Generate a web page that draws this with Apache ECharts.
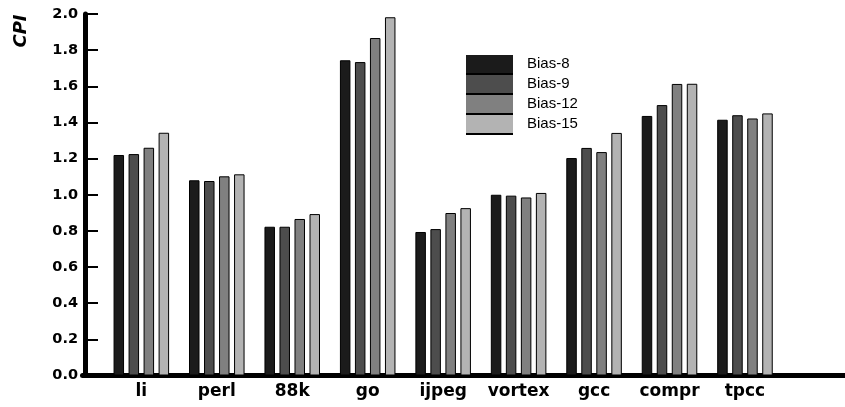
<!DOCTYPE html>
<html>
<head>
<meta charset="utf-8">
<script src="https://cdn.jsdelivr.net/npm/echarts@6/dist/echarts.min.js"></script>
<style>
  html, body { margin: 0; padding: 0; background: #fff; }
  #chart { width: 845px; height: 407px; }
</style>
</head>
<body>
<div id="chart"></div>
<script>
const benchmarks = ["li", "perl", "88k", "go", "ijpeg", "vortex", "gcc", "compr", "tpcc"];
const seriesNames = ["Bias-8", "Bias-9", "Bias-12", "Bias-15"];
const bias8 = [1.22, 1.08, 0.823, 1.744, 0.794, 1.0, 1.203, 1.436, 1.415];
const bias9 = [1.225, 1.076, 0.823, 1.734, 0.81, 0.995, 1.259, 1.496, 1.44];
const bias12 = [1.26, 1.102, 0.866, 1.867, 0.899, 0.985, 1.236, 1.613, 1.422];
const bias15 = [1.343, 1.113, 0.893, 1.982, 0.926, 1.01, 1.342, 1.614, 1.45];
const yTicks = [0, 2, 0.2];
const greys = ["#1b1b1b", "#4d4d4d", "#808080", "#b3b3b3"];

const chart = echarts.init(document.getElementById("chart"));
const values = [bias8, bias9, bias12, bias15];
const bold = { fontFamily: "DejaVu Sans", fontWeight: "bold", color: "#000" };

chart.setOption({
  animation: false,
  grid: [
    { left: 103.6, right: 62.3, top: 14, bottom: 31.5 },
    { left: 82.5, right: 0, top: 14, bottom: 31.5 },
  ],
  graphic: [
    {
      type: "text",
      x: 21,
      y: 31,
      rotation: Math.PI / 2,
      style: {
        text: "CPI",
        fontFamily: "DejaVu Sans", fontWeight: "bold", fontStyle: "italic", fontSize: 18,
        fill: "#000", align: "center", verticalAlign: "middle",
      },
    },
  ],
  legend: {
    orient: "vertical",
    left: 461,
    top: 50,
    itemWidth: 47,
    itemHeight: 18,
    itemGap: 2,
    icon: "rect",
    data: seriesNames,
    itemStyle: { borderWidth: 0, shadowColor: "#000", shadowBlur: 0, shadowOffsetX: 0, shadowOffsetY: 2 },
    textStyle: { fontFamily: "Liberation Sans", fontSize: 15, color: "#000", padding: [0, 0, 0, 9] },
  },
  xAxis: [
    {
      type: "category",
      gridIndex: 0,
      data: benchmarks,
      axisLine: { show: false },
      axisTick: { show: false },
      axisLabel: { ...bold, fontSize: 17, margin: 8, interval: 0 },
    },
    {
      type: "value",
      gridIndex: 1,
      axisLine: { show: true, onZero: false, lineStyle: { color: "#000", width: 5 } },
      axisTick: { show: false },
      axisLabel: { show: false },
      splitLine: { show: false },
    },
  ],
  yAxis: [
    {
      type: "value",
      gridIndex: 0,
      min: yTicks[0],
      max: yTicks[1],
      interval: yTicks[2],
      offset: 18.6,
      axisLine: { show: true, lineStyle: { color: "#000", width: 5 } },
      axisTick: { show: true, inside: true, length: 13, lineStyle: { color: "#000", width: 2 } },
      axisLabel: { ...bold, fontSize: 14.5, margin: 7, formatter: (v) => v.toFixed(1) },
      splitLine: { show: false },
    },
    {
      type: "value",
      gridIndex: 1,
      show: false,
    },
  ],
  series: seriesNames.map((name, i) => ({
    name,
    type: "bar",
    xAxisIndex: 0,
    yAxisIndex: 0,
    data: values[i],
    barWidth: 10.5,
    barGap: "43%",
    itemStyle: { color: greys[i], borderColor: "#000", borderWidth: 1 },
  })),
});
</script>
</body>
</html>
